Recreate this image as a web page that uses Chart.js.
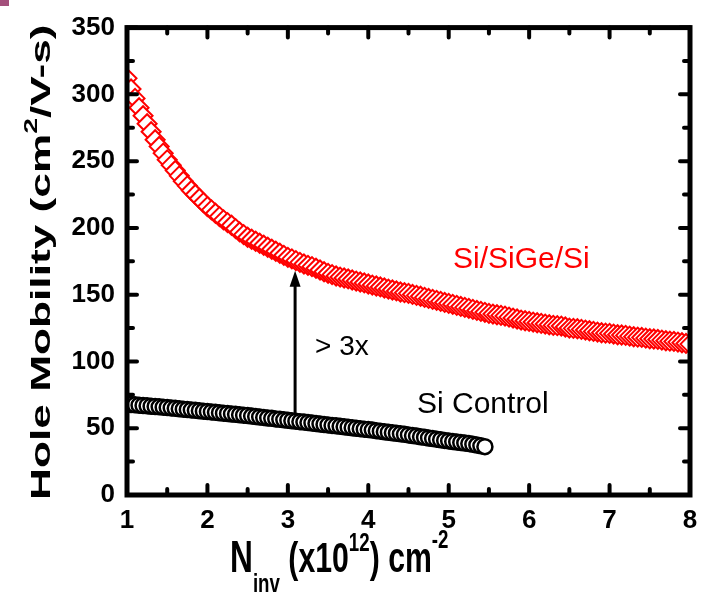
<!DOCTYPE html>
<html>
<head>
<meta charset="utf-8">
<script src="https://cdn.jsdelivr.net/npm/chart.js@4.4.0/dist/chart.umd.min.js"></script>
<style>
html,body{margin:0;padding:0;background:#fff;}
#wrap{position:relative;width:708px;height:593px;}
#corner{position:absolute;left:0;top:0;width:9px;height:6px;background:#a4507c;}
</style>
</head>
<body>
<div id="wrap"><canvas id="mobility" width="708" height="593"></canvas><div id="corner"></div></div>
<script>
// Ninv (x10^12 cm^-2) and hole mobility (cm2/V-s)
var siGeX = [1.00,1.05,1.10,1.15,1.20,1.25,1.30,1.35,1.40,1.45,1.50,1.55,1.60,1.65,1.70,1.75,1.80,1.85,1.90,1.95,
  2.00,2.05,2.10,2.15,2.20,2.25,2.30,2.35,2.40,2.45,2.50,2.55,2.60,2.65,2.70,2.75,2.80,2.85,2.90,2.95,
  3.00,3.05,3.10,3.15,3.20,3.25,3.30,3.35,3.40,3.45,3.50,3.55,3.60,3.65,3.70,3.75,3.80,3.85,3.90,3.95,
  4.00,4.05,4.10,4.15,4.20,4.25,4.30,4.35,4.40,4.45,4.50,4.55,4.60,4.65,4.70,4.75,4.80,4.85,4.90,4.95,
  5.00,5.05,5.10,5.15,5.20,5.25,5.30,5.35,5.40,5.45,5.50,5.55,5.60,5.65,5.70,5.75,5.80,5.85,5.90,5.95,
  6.00,6.05,6.10,6.15,6.20,6.25,6.30,6.35,6.40,6.45,6.50,6.55,6.60,6.65,6.70,6.75,6.80,6.85,6.90,6.95,
  7.00,7.05,7.10,7.15,7.20,7.25,7.30,7.35,7.40,7.45,7.50,7.55,7.60,7.65,7.70,7.75,7.80,7.85,7.90,7.95,
  8.00];
var siGeMu = [312,304,297,290,284,278,272,266,261,256,251,247,243,239,235,231.5,228,225,222,219,
  216,213.5,211,208.5,206,204,202,199.5,197,195,193,191.5,190,188.5,187,185.5,184,182.5,181,179.5,
  178,176.8,175.5,174.2,173,172,171,169.8,168.5,167.2,166,165,164,163.2,162.5,161.8,161,160.2,159.5,158.8,
  158,157.2,156.5,155.8,155,154.2,153.5,152.8,152,151.5,151,150.2,149.5,148.8,148,147.2,146.5,145.8,145,144.2,
  143.5,142.8,142,141.2,140.5,139.8,139,138.2,137.5,136.8,136,135.5,135,134.5,134,133.2,132.5,131.8,131,130.5,
  130,129.5,129,128.5,128,127.5,127,126.8,126.5,125.8,125,124.8,124.5,124,123.5,123,122.5,122,121.5,121.2,
  121,120.5,120,119.8,119.5,119,118.5,118.2,118,117.5,117,116.8,116.5,116,115.5,115.2,115,114.5,114,113.5,
  113];

var siX = [1.00,1.05,1.10,1.15,1.20,1.25,1.30,1.35,1.40,1.45,1.50,1.55,1.60,1.65,1.70,1.75,1.80,1.85,1.90,1.95,
  2.00,2.05,2.10,2.15,2.20,2.25,2.30,2.35,2.40,2.45,2.50,2.55,2.60,2.65,2.70,2.75,2.80,2.85,2.90,2.95,
  3.00,3.05,3.10,3.15,3.20,3.25,3.30,3.35,3.40,3.45,3.50,3.55,3.60,3.65,3.70,3.75,3.80,3.85,3.90,3.95,
  4.00,4.05,4.10,4.15,4.20,4.25,4.30,4.35,4.40,4.45,4.50,4.55,4.60,4.65,4.70,4.75,4.80,4.85,4.90,4.95,
  5.00,5.05,5.10,5.15,5.20,5.25,5.30,5.35,5.40,5.45];
var siMu = [68.0,67.8,67.5,67.3,67.0,66.8,66.5,66.3,66.0,65.8,65.5,65.2,64.9,64.6,64.3,64.0,63.7,63.4,63.1,62.8,
  62.5,62.2,61.9,61.6,61.3,61.0,60.7,60.4,60.1,59.8,59.5,59.1,58.8,58.4,58.1,57.7,57.4,57.0,56.7,56.3,
  56.0,55.6,55.3,54.9,54.6,54.2,53.9,53.5,53.2,52.8,52.5,52.1,51.8,51.4,51.1,50.7,50.4,50.0,49.7,49.3,
  49.0,48.6,48.2,47.8,47.4,47.0,46.6,46.2,45.8,45.4,45.0,44.5,44.1,43.6,43.2,42.7,42.3,41.8,41.4,40.9,
  40.5,40.1,39.7,39.3,38.9,38.5,38.0,37.4,36.8,36.2];

var xMajor = [1,2,3,4,5,6,7,8];
var xMinor = [1.5,2.5,3.5,4.5,5.5,6.5,7.5];
var yMajor = [0,50,100,150,200,250,300,350];
var yMinor = [25,75,125,175,225,275,325];

// "> 3x" arrow from the Si curve up to the SiGe curve
var arrowX = 3.09, arrowFrom = 61, arrowTo = 168;

var FONT = "'Liberation Sans', Arial, sans-serif";

function pts(xs, ys){
  return xs.map(function(x,i){ return {x:x, y:ys[i]}; });
}

// draws a run of text pieces [text, size, dy] left to right
function drawRuns(ctx, runs, x, y){
  runs.forEach(function(r){
    ctx.font = 'bold ' + r[1] + 'px ' + FONT;
    ctx.fillText(r[0], x, y + r[2]);
    x += ctx.measureText(r[0]).width;
  });
}

var decor = {
  id:'decor',
  afterDatasetsDraw:function(chart){
    var ctx = chart.ctx, a = chart.chartArea;
    var xs = chart.scales.x, ys = chart.scales.y;
    ctx.save();
    ctx.strokeStyle = '#000';
    ctx.fillStyle = '#000';
    ctx.lineCap = 'round';

    // tick marks pointing inward on all four sides
    ctx.lineWidth = 4;
    function xt(v, len){
      var p = xs.getPixelForValue(v);
      ctx.beginPath();
      ctx.moveTo(p, a.bottom); ctx.lineTo(p, a.bottom - len);
      ctx.moveTo(p, a.top); ctx.lineTo(p, a.top + len);
      ctx.stroke();
    }
    function yt(v, len){
      var p = ys.getPixelForValue(v);
      ctx.beginPath();
      ctx.moveTo(a.left, p); ctx.lineTo(a.left + len, p);
      ctx.moveTo(a.right, p); ctx.lineTo(a.right - len, p);
      ctx.stroke();
    }
    xMajor.forEach(function(v){ xt(v, 10); });
    xMinor.forEach(function(v){ xt(v, 6); });
    yMajor.forEach(function(v){ yt(v, 10); });
    yMinor.forEach(function(v){ yt(v, 6); });

    // frame
    ctx.lineWidth = 5;
    ctx.lineCap = 'square';
    ctx.strokeRect(a.left, a.top, a.right - a.left, a.bottom - a.top);

    // arrow
    var ax = xs.getPixelForValue(arrowX);
    var ay0 = ys.getPixelForValue(arrowFrom), ay1 = ys.getPixelForValue(arrowTo);
    ctx.lineWidth = 3;
    ctx.lineCap = 'butt';
    ctx.beginPath();
    ctx.moveTo(ax, ay0); ctx.lineTo(ax, ay1 + 12);
    ctx.stroke();
    ctx.beginPath();
    ctx.moveTo(ax, ay1);
    ctx.lineTo(ax - 5.5, ay1 + 16);
    ctx.lineTo(ax + 5.5, ay1 + 16);
    ctx.closePath();
    ctx.fill();

    // curve labels
    ctx.textBaseline = 'alphabetic';
    ctx.textAlign = 'left';
    ctx.font = '30px ' + FONT;
    ctx.fillStyle = '#ff0000';
    ctx.fillText('Si/SiGe/Si', 453, 268);
    ctx.fillStyle = '#000';
    ctx.fillText('Si Control', 417, 413);
    ctx.font = '28px ' + FONT;
    ctx.fillText('> 3x', 315, 355);

    // y title, rotated and stretched along its baseline
    ctx.save();
    ctx.translate(50, 500);
    ctx.rotate(-Math.PI / 2);
    ctx.scale(1.58, 1);
    drawRuns(ctx, [['Hole Mobility (cm', 28, 0], ['2', 18, -13], ['/V-s)', 28, 0]], 0, 0);
    ctx.restore();

    // x title, squeezed horizontally
    ctx.save();
    ctx.translate(230, 572);
    ctx.scale(0.72, 1);
    drawRuns(ctx, [['N', 44, 0], ['inv', 26, 20], [' (x10', 42, 0], ['12', 26, -21], [') cm', 42, 0], ['-2', 26, -24]], 0, 0);
    ctx.restore();

    ctx.restore();
  }
};

var chart = new Chart(document.getElementById('mobility').getContext('2d'), {
  type:'scatter',
  data:{
    datasets:[{
      label:'Si Control',
      data:pts(siX, siMu),
      pointStyle:'circle',
      pointRadius:7.5,
      pointBorderWidth:2.5,
      pointBorderColor:'#000',
      pointBackgroundColor:'#fff',
      showLine:false,
      clip:0
    },{
      label:'Si/SiGe/Si',
      data:pts(siGeX, siGeMu),
      pointStyle:'rectRot',
      pointRadius:9.5,
      pointBorderWidth:2,
      pointBorderColor:'#ff0000',
      pointBackgroundColor:'#fff',
      showLine:false,
      clip:0
    }]
  },
  options:{
    responsive:false,
    animation:false,
    layout:{padding:{left:0, right:18, top:22, bottom:0}},
    plugins:{legend:{display:false}, tooltip:{enabled:false}},
    scales:{
      x:{
        type:'linear', min:1, max:8,
        ticks:{stepSize:1, color:'#000', padding:10, maxRotation:0,
          font:{family:FONT, size:26, weight:'bold'}},
        grid:{display:false, drawTicks:false},
        border:{display:false},
        afterFit:function(s){ s.height = 98; }
      },
      y:{
        min:0, max:350,
        ticks:{stepSize:50, color:'#000', padding:12,
          font:{family:FONT, size:26, weight:'bold'}},
        grid:{display:false, drawTicks:false},
        border:{display:false},
        afterFit:function(s){ s.width = 127; }
      }
    }
  },
  plugins:[decor]
});
</script>
</body>
</html>
